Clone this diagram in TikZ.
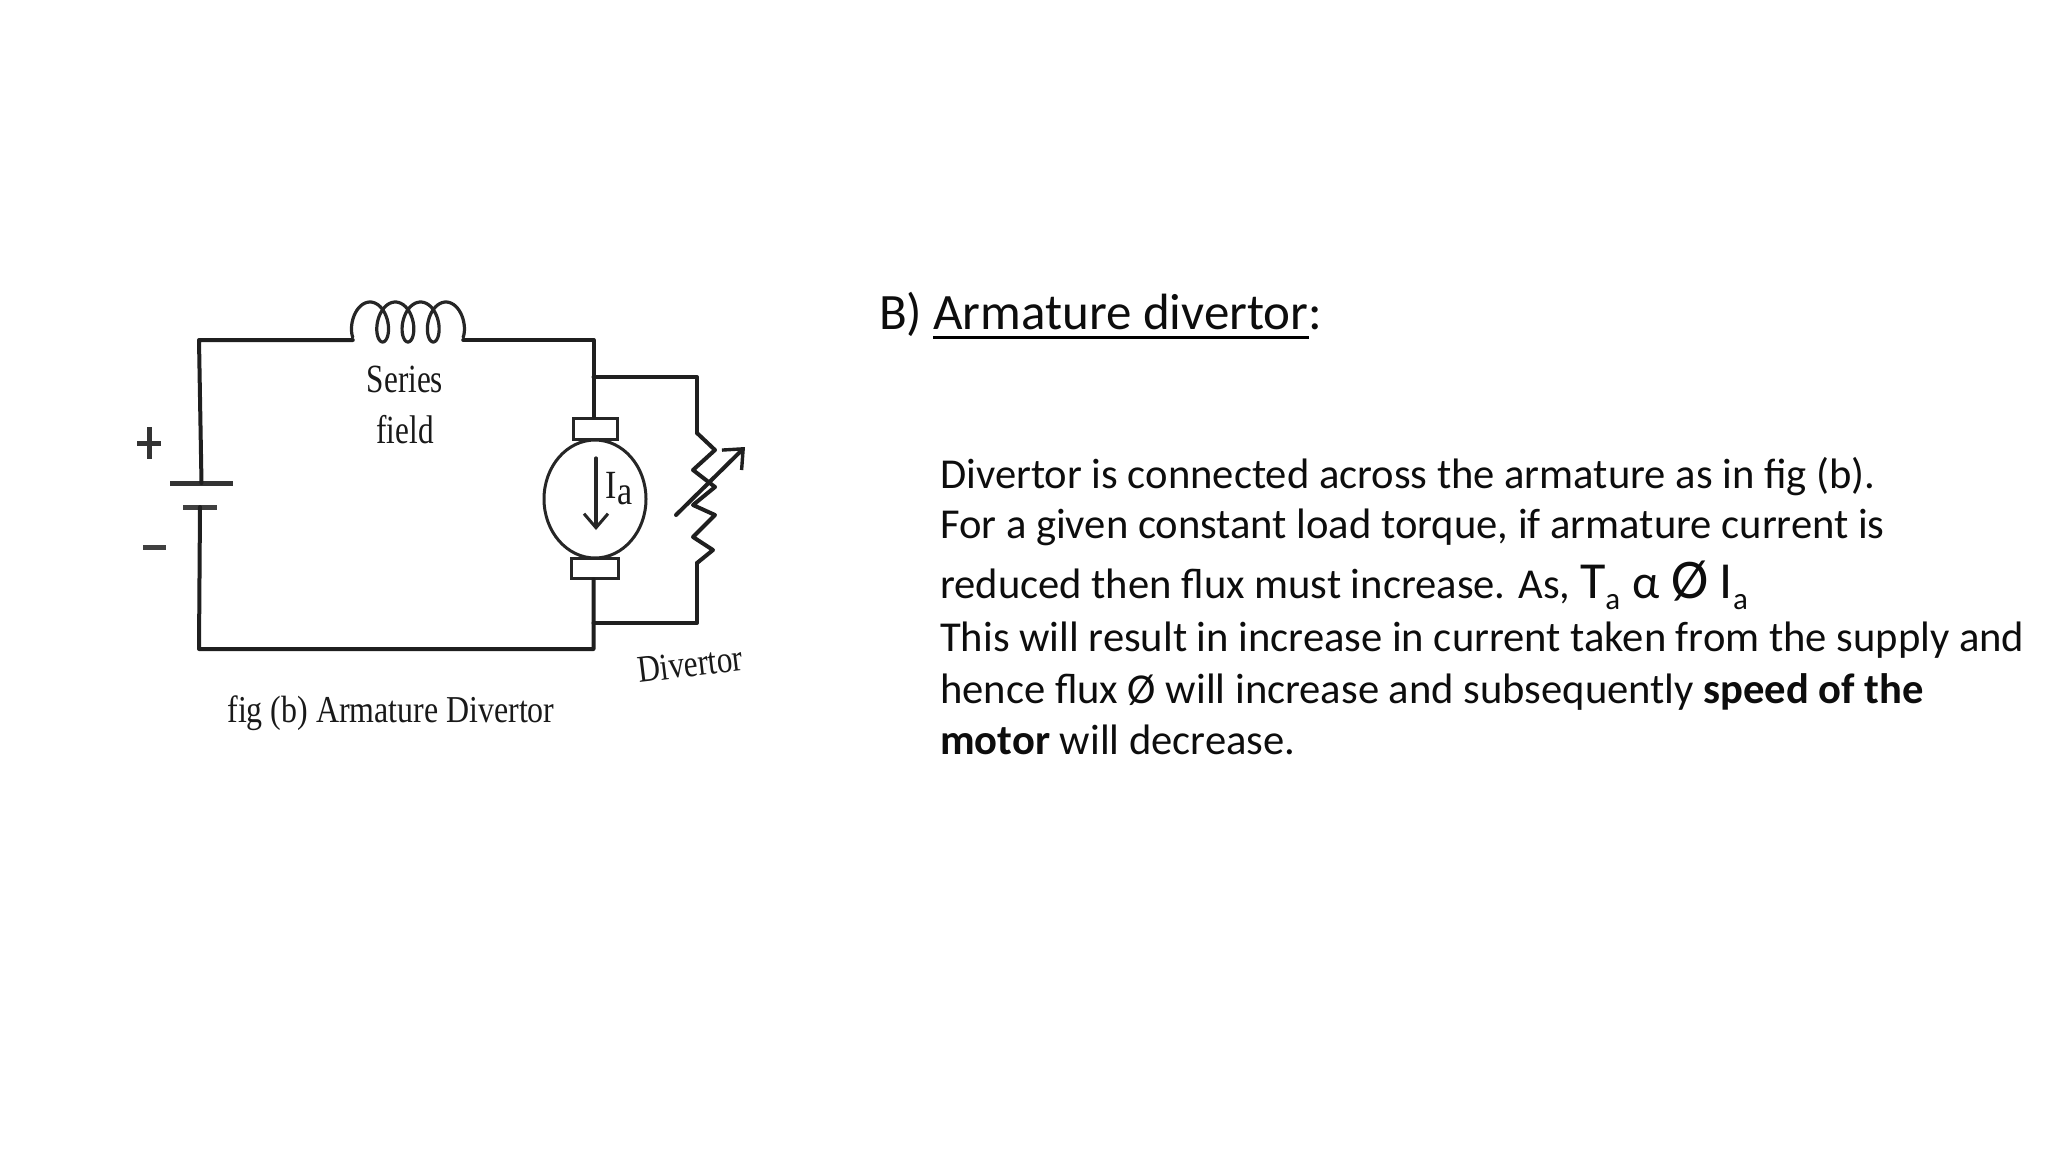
\documentclass[tikz,border=0pt]{standalone}
\usepackage{graphicx}
\usepackage{fontspec}
\setmainfont{Carlito}
\newfontfamily\serifcap{Liberation Serif}
\usetikzlibrary{shapes.geometric,arrows.meta}
\newcommand{\subA}{\raisebox{-11pt}{\fontsize{31}{31}\selectfont a}}
\tikzset{
  wire/.style={line width=4pt,draw=black!88,line cap=round,line join=round},
  thinwire/.style={line width=3.2pt,draw=black!85,line cap=round,line join=round},
  brush/.style={draw=black!85,line width=3pt,fill=white,rectangle,inner sep=0pt},
  bodyline/.style={anchor=base west,inner sep=0pt,text=black!95,font=\fontsize{42.6}{48}\selectfont},
  headline/.style={anchor=base west,inner sep=0pt,text=black!95,font=\fontsize{51}{56}\selectfont},
  circlabel/.style={inner sep=0pt,text=black!90,font=\serifcap\fontsize{40}{44}\selectfont},
  caplabel/.style={inner sep=0pt,text=black!90,font=\serifcap\fontsize{38}{42}\selectfont}
}
\begin{document}
\begin{tikzpicture}[x=1pt,y=-1pt]
\useasboundingbox (0,0) rectangle (2048,1152);
% named points
\coordinate (tl) at (199,340);
\coordinate (coilL) at (352.8,340);
\coordinate (coilR) at (463.2,340);
\coordinate (tr) at (593.5,340);
\coordinate (shTop) at (593.5,377);
\coordinate (shTopR) at (697,377);
\coordinate (rTop) at (697,433);
\coordinate (rBot) at (697,563);
\coordinate (shBotR) at (697,623);
\coordinate (shBot) at (593.5,623);
\coordinate (br) at (593.5,649);
\coordinate (bl) at (199,649);
% machine
\node[brush,minimum width=44pt,minimum height=21pt] (brTop) at (595,428.5) {};
\node[brush,minimum width=47pt,minimum height=20pt] (brBot) at (594.5,568) {};
\node[ellipse,draw=black!85,line width=3pt,fill=white,inner sep=0pt,minimum width=102pt,minimum height=118pt] (arm) at (595,499) {};
\coordinate (iaT) at (596,458);
\coordinate (iaB) at (596,530);
\draw[thinwire,-{Straight Barb[length=14pt,width=24pt,line width=3pt]}] (iaT) -- (iaB);
\node[circlabel,anchor=base] (ia) at (619,498) {\scalebox{0.85}[1]{I\raisebox{-6pt}{a}}};
% battery
\node[inner sep=0pt,minimum width=63pt,minimum height=5pt,fill=black!80] (plateA) at (201.5,483) {};
\node[inner sep=0pt,minimum width=34pt,minimum height=5pt,fill=black!75] (plateB) at (200,507) {};
% wires
\draw[wire] (plateA.center) -- (tl) -- (coilL);
\draw[wire] (coilR) -- (tr) -- (brTop.north -| tr);
\draw[wire] (shTop) -- (shTopR) -- (rTop);
\draw[wire] (rBot) -- (shBotR) -- (shBot);
\draw[wire] (brBot.south -| br) -- (br) -- (bl) -- (plateB.center);
% series field coil
\draw[thinwire] plot[domain=-140:1220,samples=160,smooth,variable=\t] ({370+0.0703*\t+11.5*sin(\t)},{322-20*cos(\t)});
% resistor
\draw[wire] (rTop) -- (715,450) -- (693,470) -- (715,487) -- (693,505) -- (715,515) -- (693,537) -- (713,550) -- (rBot);
\coordinate (vrA) at (676,515);
\coordinate (vrB) at (745,447);
\draw[wire,-{Straight Barb[length=16pt,width=28pt,line width=3.4pt]}] (vrA) -- (vrB);
% polarity
\node[inner sep=0pt,minimum width=24pt,minimum height=5pt,fill=black!80] (plusH) at (149,443) {};
\node[inner sep=0pt,minimum width=5pt,minimum height=32pt,fill=black!80] (plusV) at (149,443) {};
\node[inner sep=0pt,minimum width=23pt,minimum height=5pt,fill=black!75] (minus) at (154,547) {};
% labels
\node[circlabel] (series) at (405,379) {\scalebox{0.78}[1]{Series}};
\node[circlabel] (fieldl) at (405,430) {\scalebox{0.78}[1]{field}};
\node[caplabel,rotate=7] (divl) at (690,664) {\scalebox{0.82}[1]{Divertor}};
\node[caplabel] (figl) at (391,713) {\scalebox{0.84}[1]{fig (b) Armature Divertor}};
% text
\node[headline] (hb) at (879,329) {B)};
\node[headline] (ha) at (933,329) {Armature divertor};
\node[headline] (hc) at (ha.base east) {:};
\coordinate (ulL) at (933,337.5);
\coordinate (ulR) at (1309,337.5);
\draw[line width=3pt,draw=black] (ulL) -- (ulR);
\node[bodyline] (l1) at (940,488) {Divertor is connected across the armature as in fig (b).};
\node[bodyline] (l2) at (940,538) {For a given constant load torque, if armature current is};
\node[bodyline] (l3) at (940,598) {reduced then flux must increase. As, {\fontsize{52}{56}\selectfont T\subA{} {\fontsize{48}{56}\selectfont α} {\fontsize{56}{56}\selectfont Ø} I\subA}};
\node[bodyline] (l4) at (940,651) {This will result in increase in current taken from the supply and};
\node[bodyline] (l5) at (940,703) {hence flux Ø will increase and subsequently \textbf{speed of the}};
\node[bodyline] (l6) at (940,754) {\textbf{motor} will decrease.};
\end{tikzpicture}
\end{document}
